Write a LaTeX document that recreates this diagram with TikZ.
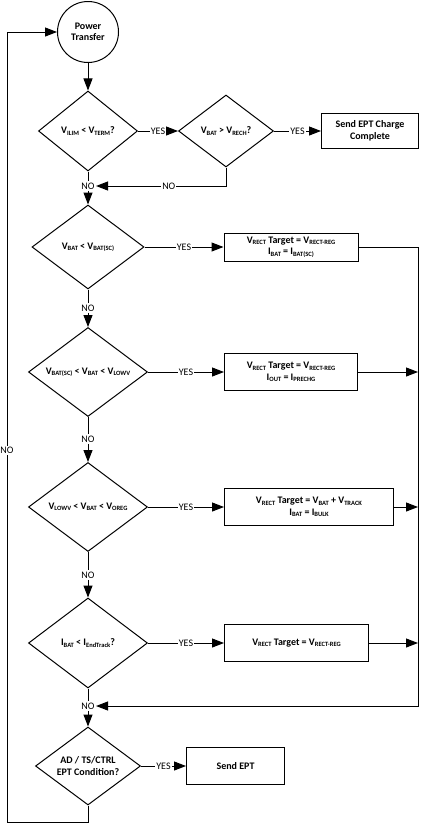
\documentclass[tikz,border=0pt]{standalone}
\usepackage{fontspec}
\setmainfont{Carlito}
\usetikzlibrary{arrows.meta,positioning,shapes.geometric}

\newcommand{\sbs}[1]{\raisebox{-0.3ex}{\fontsize{6.5}{6.5}\selectfont #1}}

\begin{document}
\begin{tikzpicture}[
  x=1pt, y=-1pt,
  line width=1pt,
  font=\fontsize{10}{11.5}\selectfont\bfseries,
  term/.style={draw, circle, minimum size=61pt, inner sep=0pt, align=center},
  dec/.style={draw, diamond, aspect=1.3, inner xsep=-25pt, inner ysep=-4pt,
    align=center, minimum width=119pt, minimum height=89pt},
  proc/.style={draw, rectangle, align=center, inner sep=2pt, minimum height=37pt},
  lbl/.style={font=\fontsize{10}{11}\selectfont, fill=white, inner sep=1pt},
  arr/.style={-{Triangle[length=12pt, width=9pt]}}
]
  \useasboundingbox (0,0) rectangle (423,825);

  \node[term] (pt) at (88,32) {Power\\Transfer};
  \node[dec, minimum width=99pt, minimum height=80pt] (d1) at (88,131)
    {V\sbs{ILIM} < V\sbs{TERM}?};
  \node[dec, right=40pt of d1, minimum width=95pt, minimum height=72pt] (d2)
    {V\sbs{BAT} > V\sbs{RECH}?};
  \node[proc, right=47pt of d2, minimum width=97pt, minimum height=35pt] (b1)
    {Send EPT Charge\\Complete};
  \node[lbl] (n1) at (88,186) {NO};

  \node[dec, minimum width=112pt, minimum height=84pt] (d3) at (88,247)
    {V\sbs{BAT} < V\sbs{BAT(SC)}};
  \node[proc, right=79pt of d3, minimum width=134pt, minimum height=28pt] (b3)
    {V\sbs{RECT} Target = V\sbs{RECT-REG}\\I\sbs{BAT} = I\sbs{BAT(SC)}};
  \node[lbl] (n2) at (88,308) {NO};

  \node[dec] (d4) at (88,372) {V\sbs{BAT(SC)} < V\sbs{BAT} < V\sbs{LOWV}};
  \node[proc, right=76pt of d4, minimum width=133pt] (b4)
    {V\sbs{RECT} Target = V\sbs{RECT-REG}\\I\sbs{OUT} = I\sbs{PRECHG}};
  \node[lbl] (n3) at (88,439) {NO};

  \node[dec] (d5) at (88,507) {V\sbs{LOWV} < V\sbs{BAT} < V\sbs{OREG}};
  \node[proc, right=76pt of d5, minimum width=169pt] (b5)
    {V\sbs{RECT} Target = V\sbs{BAT} + V\sbs{TRACK}\\I\sbs{BAT} = I\sbs{BULK}};
  \node[lbl] (n4) at (88,575) {NO};

  \node[dec, minimum height=90pt] (d6) at (88,643) {I\sbs{BAT} < I\sbs{EndTrack}?};
  \node[proc, right=76pt of d6, minimum width=144pt] (b6)
    {V\sbs{RECT} Target = V\sbs{RECT-REG}};
  \node[lbl] (n5) at (88,706) {NO};

  \node[dec, minimum width=105pt, minimum height=78pt] (d7) at (88,766)
    {AD / TS/CTRL\\EPT Condition?};
  \node[proc, right=45pt of d7, minimum width=98pt] (b7) {Send EPT};

  \coordinate (bus) at (418,706);
  \coordinate (lb) at (7,822);
  \coordinate (lt) at (7,32);

  % top checks
  \draw[arr] (pt) -- (d1);
  \draw[arr] (d1) -- node[lbl]{YES} (d2);
  \draw[arr] (d2) -- node[lbl]{YES} (b1);
  \draw (d1) -- (n1);
  \draw[arr] (d2) |- node[lbl, pos=.72]{NO} (n1);
  \draw[arr] (n1) -- (d3);

  % charge stages
  \draw[arr] (d3) -- node[lbl]{YES} (b3);
  \draw (d3) -- (n2);
  \draw[arr] (n2) -- (d4);
  \draw[arr] (d4) -- node[lbl]{YES} (b4);
  \draw (d4) -- (n3);
  \draw[arr] (n3) -- (d5);
  \draw[arr] (d5) -- node[lbl]{YES} (b5);
  \draw (d5) -- (n4);
  \draw[arr] (n4) -- (d6);
  \draw[arr] (d6) -- node[lbl]{YES} (b6);
  \draw (d6) -- (n5);

  % return bus
  \draw[arr] (b3) -| (bus) -- (n5);
  \foreach \b in {b4,b5,b6}
    \draw[arr] (\b) -- (\b -| bus);

  % end check and loop
  \draw[arr] (n5) -- (d7);
  \draw[arr] (d7) -- node[lbl]{YES} (b7);
  \draw[arr] (d7) |- (lb) -- node[lbl, pos=.47]{NO} (lt) -- (pt);
\end{tikzpicture}
\end{document}
